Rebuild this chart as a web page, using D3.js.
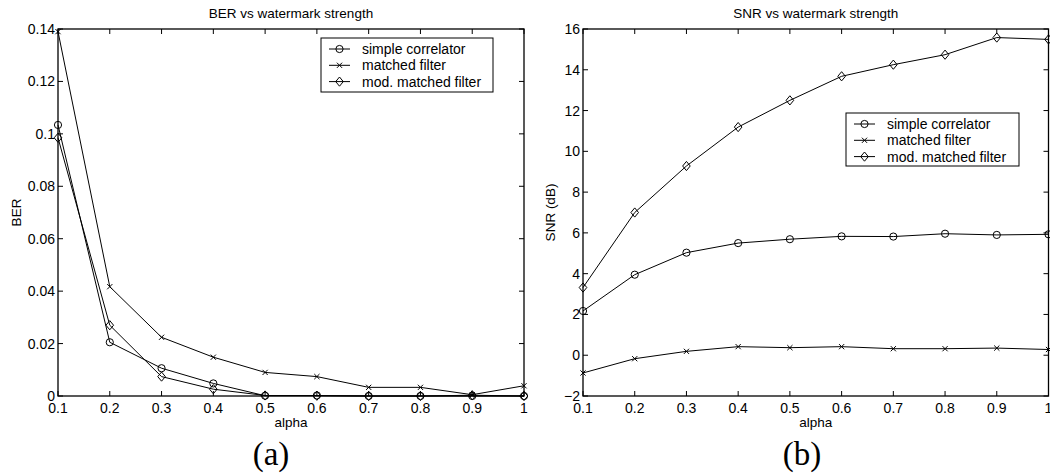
<!DOCTYPE html>
<html>
<head>
<meta charset="utf-8">
<script src="https://cdn.jsdelivr.net/npm/d3@7"></script>
<style>
  body { margin: 0; background: #fff; }
  svg text { font-family: "Liberation Sans", Arial, Helvetica, sans-serif; fill: #000; }
</style>
</head>
<body>
<svg id="fig" width="1050" height="475"></svg>
<script>
// alpha values shared by both panels
var alpha = [0.1, 0.2, 0.3, 0.4, 0.5, 0.6, 0.7, 0.8, 0.9, 1.0];
var xTicks = [0.1, 0.2, 0.3, 0.4, 0.5, 0.6, 0.7, 0.8, 0.9, 1];

// (a) BER
var berSimple = [0.1034, 0.0205, 0.0106, 0.0048, 0.0001, 0.0002, 0, 0, 0, 0];
var berMatched = [0.139, 0.0417, 0.0224, 0.0148, 0.0090, 0.0074, 0.0033, 0.0033, 0.0005, 0.0039];
var berMod = [0.0985, 0.0270, 0.0074, 0.0026, 0.0002, 0.0001, 0, 0, 0.0003, 0];
var berTicks = [0, 0.02, 0.04, 0.06, 0.08, 0.1, 0.12, 0.14];

// (b) SNR
var snrSimple = [2.17, 3.95, 5.03, 5.50, 5.69, 5.83, 5.82, 5.96, 5.90, 5.93];
var snrMatched = [-0.87, -0.17, 0.19, 0.42, 0.37, 0.42, 0.32, 0.32, 0.35, 0.28];
var snrMod = [3.32, 7.00, 9.28, 11.19, 12.50, 13.68, 14.25, 14.74, 15.58, 15.49];
var snrTicks = [-2, 0, 2, 4, 6, 8, 10, 12, 14, 16];

var legendNames = ["simple correlator", "matched filter", "mod. matched filter"];
var markers = ["circle", "cross", "diamond"];

var svg = d3.select("#fig");

function drawMarker(g, type, x, y) {
  if (type === "circle") {
    g.append("circle").attr("cx", x).attr("cy", y).attr("r", 3.6)
      .attr("fill", "none").attr("stroke", "#000").attr("stroke-width", 1);
  } else if (type === "cross") {
    var s = 2.6;
    g.append("path")
      .attr("d", "M" + (x - s) + "," + (y - s) + "L" + (x + s) + "," + (y + s) +
                 "M" + (x - s) + "," + (y + s) + "L" + (x + s) + "," + (y - s))
      .attr("stroke", "#000").attr("stroke-width", 1).attr("fill", "none");
  } else {
    var w = 3.8, h = 4.6;
    g.append("path")
      .attr("d", "M" + x + "," + (y - h) + "L" + (x + w) + "," + y + "L" + x + "," + (y + h) +
                 "L" + (x - w) + "," + y + "Z")
      .attr("stroke", "#000").attr("stroke-width", 1).attr("fill", "none");
  }
}

function panel(opts) {
  var g = svg.append("g");
  var x = d3.scaleLinear().domain([0.1, 1]).range([opts.left, opts.right]);
  var y = d3.scaleLinear().domain(opts.yDomain).range([opts.bottom, opts.top]);

  // box
  g.append("rect")
    .attr("x", opts.left).attr("y", opts.top)
    .attr("width", opts.right - opts.left).attr("height", opts.bottom - opts.top)
    .attr("fill", "none").attr("stroke", "#000").attr("stroke-width", 1.3);

  // inward ticks on all sides
  var tl = 5;
  xTicks.forEach(function(t) {
    g.append("line").attr("x1", x(t)).attr("x2", x(t)).attr("y1", opts.bottom).attr("y2", opts.bottom - tl).attr("stroke", "#000");
    g.append("line").attr("x1", x(t)).attr("x2", x(t)).attr("y1", opts.top).attr("y2", opts.top + tl).attr("stroke", "#000");
    g.append("text").attr("x", x(t)).attr("y", opts.bottom + 17)
      .attr("text-anchor", "middle").style("font-size", "14px")
      .text(d3.format("~g")(t));
  });
  opts.yTicks.forEach(function(t) {
    g.append("line").attr("x1", opts.left).attr("x2", opts.left + tl).attr("y1", y(t)).attr("y2", y(t)).attr("stroke", "#000");
    g.append("line").attr("x1", opts.right).attr("x2", opts.right - tl).attr("y1", y(t)).attr("y2", y(t)).attr("stroke", "#000");
    g.append("text").attr("x", opts.left - 3).attr("y", y(t)).attr("dy", "0.36em")
      .attr("text-anchor", "end").style("font-size", "14px")
      .text(t < 0 ? "\u2212" + Math.abs(t) : d3.format("~g")(t));
  });

  // title and axis labels
  var cx = (opts.left + opts.right) / 2;
  g.append("text").attr("x", cx).attr("y", 18).attr("text-anchor", "middle")
    .style("font-size", "13.5px").text(opts.title);
  g.append("text").attr("x", cx).attr("y", 427).attr("text-anchor", "middle")
    .style("font-size", "13.5px").text("alpha");
  g.append("text")
    .attr("transform", "translate(" + opts.ylabelX + "," + ((opts.top + opts.bottom) / 2) + ") rotate(-90)")
    .attr("text-anchor", "middle").style("font-size", "13.5px").text(opts.ylabel);
  g.append("text").attr("x", opts.captionX).attr("y", 465).attr("text-anchor", "middle")
    .style("font-family", "'Liberation Serif', 'DejaVu Serif', serif").style("font-size", "33px")
    .text(opts.caption);

  // series
  var line = d3.line().x(function(d, i) { return x(alpha[i]); }).y(function(d) { return y(d); });
  opts.series.forEach(function(s, k) {
    g.append("path").attr("d", line(s)).attr("fill", "none").attr("stroke", "#000").attr("stroke-width", 1);
    s.forEach(function(v, i) { drawMarker(g, markers[k], x(alpha[i]), y(v)); });
  });

  // legend
  var L = opts.legend;
  g.append("rect").attr("x", L.x).attr("y", L.y).attr("width", L.w).attr("height", L.h)
    .attr("fill", "#fff").attr("stroke", "#000").attr("stroke-width", 1);
  legendNames.forEach(function(name, k) {
    var ry = L.y + 11 + k * 16.3;
    g.append("line").attr("x1", L.x + 8).attr("x2", L.x + 29).attr("y1", ry).attr("y2", ry).attr("stroke", "#000");
    drawMarker(g, markers[k], L.x + 18.5, ry);
    g.append("text").attr("x", L.x + 41).attr("y", ry).attr("dy", "0.36em")
      .style("font-size", "14px").text(name);
  });
}

panel({
  left: 58, right: 524, top: 29, bottom: 396,
  yDomain: [0, 0.14], yTicks: berTicks,
  title: "BER vs watermark strength", ylabel: "BER", ylabelX: 21, caption: "(a)", captionX: 271,
  series: [berSimple, berMatched, berMod],
  legend: {x: 321, y: 38, w: 172, h: 54}
});

panel({
  left: 583, right: 1048.5, top: 29, bottom: 396,
  yDomain: [-2, 16], yTicks: snrTicks,
  title: "SNR vs watermark strength", ylabel: "SNR (dB)", ylabelX: 555, caption: "(b)", captionX: 802,
  series: [snrSimple, snrMatched, snrMod],
  legend: {x: 846, y: 113, w: 173, h: 53}
});
</script>
</body>
</html>
